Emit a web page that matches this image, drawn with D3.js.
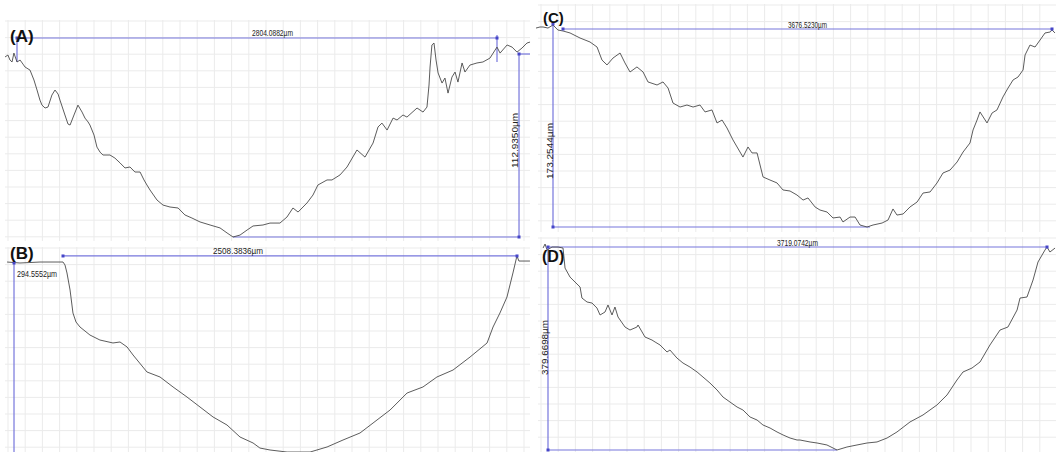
<!DOCTYPE html>
<html>
<head>
<meta charset="utf-8">
<script src="https://cdn.jsdelivr.net/npm/d3@7"></script>
<style>
  body { margin: 0; background: #fff; }
</style>
</head>
<body>
<svg id="chart" width="1056" height="452"></svg>
<script>
(function () {
  'use strict';

  // ---- profile data, x along scan (µm, 0 = left cursor), height / depth (µm) ----
  // (A) height above the lowest point
  const aX = [-70,-53,-41,-29,-18,0,18,35,47,76,99,117,134,146,164,181,204,222,240,251,280,298,310,333,356,380,397,415,426,450,467,485,502,543,572,602,631,660,689,719,742,759,777,818,853,894,941,981,1022,1069,1128,1186,1227,1262,1303,1344,1379,1437,1478,1536,1577,1612,1642,1694,1729,1758,1811,1840,1887,1928,1986,2033,2080,2109,2132,2162,2197,2220,2255,2278,2337,2372,2395,2407,2413,2424,2436,2448,2460,2483,2500,2518,2541,2559,2576,2600,2617,2646,2687,2722,2763,2804,2822,2863,2892,2921,2950,2979,2997];
  const aH = [111.1,112.3,109.2,108.0,113.5,108.0,109.2,106.7,104.9,103.0,96.9,90.7,84.5,81.4,79.6,80.2,87.6,90.7,88.2,84.5,75.3,69.7,69.1,75.3,81.4,77.1,73.4,71.0,69.1,62.9,55.5,52.4,50.6,50.6,48.7,45.7,42.6,43.2,40.1,40.1,35.2,32.1,29.0,22.8,19.7,18.5,17.9,13.6,11.7,9.3,7.4,5.6,2.5,0,1.2,4.3,6.8,7.4,8.6,8.6,12.3,17.9,15.4,21.0,25.9,32.1,35.2,35.2,38.3,43.2,53.7,49.3,58.0,67.9,70.3,66.0,73.4,72.2,75.3,74.0,79.6,77.1,80.2,93.8,104.9,118.5,119.7,109.2,101.2,95.0,98.1,88.8,98.7,101.8,95.6,107.4,101.8,106.1,107.4,108.0,110.4,117.2,113.5,118.5,117.2,114.1,116.6,119.7,120.3];

  // (B) depth below the rim
  const bX = [-309,-238,-127,0,11,22,39,55,72,94,149,204,276,315,354,387,464,536,608,685,757,829,906,978,1050,1088,1144,1238,1365,1459,1547,1641,1713,1807,1901,1989,2066,2155,2249,2343,2376,2414,2453,2486,2508,2519,2580];
  const bD = [-1.4,0,-1.4,-1.4,2.8,14.2,38.4,71.2,84.0,91.1,102.5,109.6,113.8,112.4,119.5,130.9,155.1,162.2,176.4,190.7,204.9,219.1,230.5,247.6,256.1,263.3,266.1,269.0,269.0,261.8,251.9,241.9,227.7,209.2,185.0,176.4,162.2,152.3,133.8,113.8,91.1,71.2,48.4,14.2,-10.0,-2.8,-2.8];

  // (C) height above the lowest point
  const cX = [-203,-173,-150,-113,-75,-38,0,53,128,203,256,293,331,376,429,466,504,556,602,639,707,752,790,827,880,932,978,1030,1068,1120,1158,1196,1233,1278,1353,1391,1421,1459,1504,1556,1609,1654,1707,1759,1805,1842,1895,1932,1985,2030,2083,2105,2158,2196,2233,2286,2331,2399,2444,2481,2511,2557,2609,2662,2707,2760,2812,2857,2910,2963,3008,3060,3083,3113,3135,3188,3226,3263,3308,3346,3384,3421,3459,3474,3511,3549,3587,3624,3662,3677,3699];
  const cH = [169.8,170.7,170.7,169.8,172.4,168.1,167.3,165.6,161.3,157.9,153.6,142.5,138.3,144.2,148.5,140.0,132.3,136.6,132.3,123.8,121.2,123.8,118.6,105.8,102.4,104.1,102.4,104.1,98.2,99.9,88.8,91.3,84.5,74.3,59.7,68.3,63.2,63.2,42.7,40.1,37.6,31.6,30.7,27.3,23.0,24.8,17.1,14.5,12.8,7.7,8.5,4.3,8.5,8.5,1.7,0,1.7,3.4,6.0,15.4,10.2,11.1,17.1,21.3,29.0,29.9,37.6,46.1,48.6,55.5,64.0,71.7,82.8,91.3,98.2,88.8,97.3,99.9,111.0,118.6,125.5,128.0,134.0,146.8,155.3,153.6,159.6,165.6,166.4,168.1,165.6];

  // (D) height above the lowest point
  const dX = [-37,-22,-7,30,75,112,127,164,201,239,253,291,328,365,388,425,447,477,499,522,574,611,663,671,723,775,798,835,887,909,961,1006,1058,1111,1155,1207,1260,1304,1356,1409,1453,1506,1558,1602,1655,1707,1752,1804,1856,1878,1953,2005,2079,2154,2228,2303,2378,2452,2527,2601,2698,2795,2899,2974,3048,3093,3160,3220,3294,3369,3428,3496,3518,3570,3615,3652,3704,3719,3741,3779];
  const dH = [377.7,385.2,374.0,379.6,379.6,377.7,340.3,323.5,314.2,304.8,284.2,276.8,274.9,265.5,252.5,258.1,271.2,252.5,267.4,248.7,230.0,224.4,230.0,233.8,211.3,205.7,202.0,196.4,183.3,187.0,172.0,162.7,155.2,145.9,136.5,125.3,112.2,99.1,89.8,80.4,74.8,61.7,56.1,46.8,41.1,33.7,28.1,22.4,18.7,18.7,15.0,13.1,9.4,0,5.6,9.4,13.1,15.0,22.4,33.7,52.4,65.5,84.2,102.9,130.9,145.9,153.3,164.6,196.4,224.4,230.0,261.8,284.2,286.1,317.9,351.6,374.0,379.6,370.3,377.7];

  // measured values and their labels
  const panelNames = ['(A)', '(B)', '(C)', '(D)'];
  const spans = [2804.0882, 2508.3836, 3676.5230, 3719.0742];
  const depths = [112.9350, 294.5552, 173.2544, 379.6698];
  const spanLabels = ['2804.0882µm', '2508.3836µm', '3676.5230µm', '3719.0742µm'];
  const depthLabels = ['112.9350µm', '294.5552µm', '173.2544µm', '379.6698µm'];

  // cursor segments [x1, v1, x2, v2] and handles [x, v], in µm
  const cursorsA = [[0,122.8,2804.0882,122.8],[0,122.8,0,108.0],[2804.0882,124.6,2804.0882,108.0],[2932.7,0,2932.7,112.935],[2932.7,112.935,2997,112.935],[1262,0,2932.7,0]];
  const handlesA = [[0,122.8],[2804.0882,122.8],[2932.7,112.935],[2932.7,0]];
  const cursorsB = [[0,-10,2508.3836,-10],[-270.7,0,-270.7,294.5552]];
  const handlesB = [[0,-10],[2508.3836,-10],[-270.7,0]];
  const cursorsC = [[0,169.0,3676.523,169.0],[-75.2,173.2544,-75.2,0],[-75.2,0,2308,0]];
  const handlesC = [[0,169.0],[3676.523,169.0],[-75.2,173.2544],[-75.2,0]];
  const cursorsD = [[0,379.6698,3719.0742,379.6698],[0,379.6698,0,0],[0,0,2154,0]];
  const handlesD = [[0,379.6698],[3719.0742,379.6698],[0,0]];

  const blue = '#7676dc';
  const handleBlue = '#4646c8';
  const gridColor = '#ebebeb';
  const traceColor = '#4a4a4a';
  const narrow = "'Liberation Sans Narrow', 'Arial Narrow', 'Liberation Sans', sans-serif";

  // layout of each panel (pixels)
  const panels = [
    { xs: aX, vs: aH, cur: cursorsA, hd: handlesA,
      xr: [17, 497], vr: [237, 54], clip: [4, 14, 527, 229], grid: [5, 20, 530, 241],
      title: [10, 42, 17], spanTxt: [252, 36, 41, 8.5], depthTxt: ['v', 518, 140.5, 55] },
    { xs: bX, vs: bD, cur: cursorsB, hd: handlesB,
      xr: [63, 517], vr: [263, 470], clip: [4, 245, 527, 207], grid: [5, 247, 530, 452],
      title: [10, 259, 17], spanTxt: [213, 254, 50, 9.5], depthTxt: ['h', 17, 277, 40] },
    { xs: cX, vs: cH, cur: cursorsC, hd: handlesC,
      xr: [563, 1052], vr: [227, 24], clip: [534, 0, 522, 233], grid: [538, 4, 1056, 232],
      title: [543, 23, 15], spanTxt: [788, 28, 39, 8.5], depthTxt: ['v', 552.5, 151, 56] },
    { xs: dX, vs: dH, cur: cursorsD, hd: handlesD,
      xr: [548, 1047], vr: [450, 247], clip: [534, 235, 522, 217], grid: [538, 237, 1056, 452],
      title: [542, 262, 16], spanTxt: [777, 246, 41, 8.5], depthTxt: ['v', 547.5, 347.5, 55] }
  ];

  const svg = d3.select('#chart');
  svg.append('rect').attr('width', 1056).attr('height', 452).attr('fill', '#fff');

  const defs = svg.append('defs');

  panels.forEach((p, i) => {
    const x = d3.scaleLinear().domain([0, spans[i]]).range(p.xr);
    const v = d3.scaleLinear().domain([0, depths[i]]).range(p.vr);

    defs.append('clipPath').attr('id', `clip${i}`)
      .append('rect')
        .attr('x', p.clip[0]).attr('y', p.clip[1])
        .attr('width', p.clip[2]).attr('height', p.clip[3]);

    const g = svg.append('g').attr('clip-path', `url(#clip${i})`);

    // background grid of the profilometer screen
    const [gx0, gy0, gx1, gy1] = p.grid;
    g.append('g')
      .selectAll('line')
      .data(d3.range(gx0 + 3, gx1, 17.2))
      .enter()
      .append('line')
        .attr('x1', d => d).attr('x2', d => d)
        .attr('y1', gy0).attr('y2', gy1)
        .attr('stroke', gridColor).attr('stroke-width', 1);
    g.append('g')
      .selectAll('line')
      .data(d3.range(gy0 + 1, gy1, 16.6))
      .enter()
      .append('line')
        .attr('x1', gx0).attr('x2', gx1)
        .attr('y1', d => d).attr('y2', d => d)
        .attr('stroke', gridColor).attr('stroke-width', 1);

    // cursors
    g.append('g')
      .selectAll('line')
      .data(p.cur)
      .enter()
      .append('line')
        .attr('x1', d => x(d[0])).attr('y1', d => v(d[1]))
        .attr('x2', d => x(d[2])).attr('y2', d => v(d[3]))
        .attr('stroke', blue).attr('stroke-width', 1.2);

    // profile trace
    const line = d3.line()
      .x((d, k) => x(p.xs[k]))
      .y(d => v(d));
    g.append('path')
      .datum(p.vs)
      .attr('d', line)
      .attr('fill', 'none')
      .attr('stroke', traceColor)
      .attr('stroke-width', 0.9)
      .attr('stroke-linejoin', 'round');

    g.append('g')
      .selectAll('rect')
      .data(p.hd)
      .enter()
      .append('rect')
        .attr('x', d => x(d[0]) - 1.5).attr('y', d => v(d[1]) - 1.5)
        .attr('width', 3).attr('height', 3)
        .attr('fill', handleBlue);

    // measurement labels
    svg.append('text')
      .attr('x', p.spanTxt[0]).attr('y', p.spanTxt[1])
      .attr('textLength', p.spanTxt[2])
      .attr('lengthAdjust', 'spacingAndGlyphs')
      .style('font-family', narrow)
      .style('font-size', `${p.spanTxt[3]}px`)
      .style('fill', '#222')
      .text(spanLabels[i]);

    const dt = p.depthTxt;
    if (dt[0] === 'v') {
      svg.append('text')
        .attr('transform', `translate(${dt[1]},${dt[2]}) rotate(-90)`)
        .attr('text-anchor', 'middle')
        .attr('textLength', dt[3])
        .attr('lengthAdjust', 'spacingAndGlyphs')
        .style('font-family', narrow)
        .style('font-size', '8.5px')
        .style('fill', '#222')
        .text(depthLabels[i]);
    } else {
      svg.append('text')
        .attr('x', dt[1]).attr('y', dt[2])
        .attr('textLength', dt[3])
        .attr('lengthAdjust', 'spacingAndGlyphs')
        .style('font-family', narrow)
        .style('font-size', '9px')
        .style('fill', '#222')
        .text(depthLabels[i]);
    }

    // panel letter
    svg.append('text')
      .attr('x', p.title[0]).attr('y', p.title[1])
      .style('font-family', "'Liberation Sans', Arial, sans-serif")
      .style('font-weight', 'bold')
      .style('font-size', `${p.title[2]}px`)
      .style('fill', '#111')
      .text(panelNames[i]);
  });

}());
</script>
</body>
</html>
